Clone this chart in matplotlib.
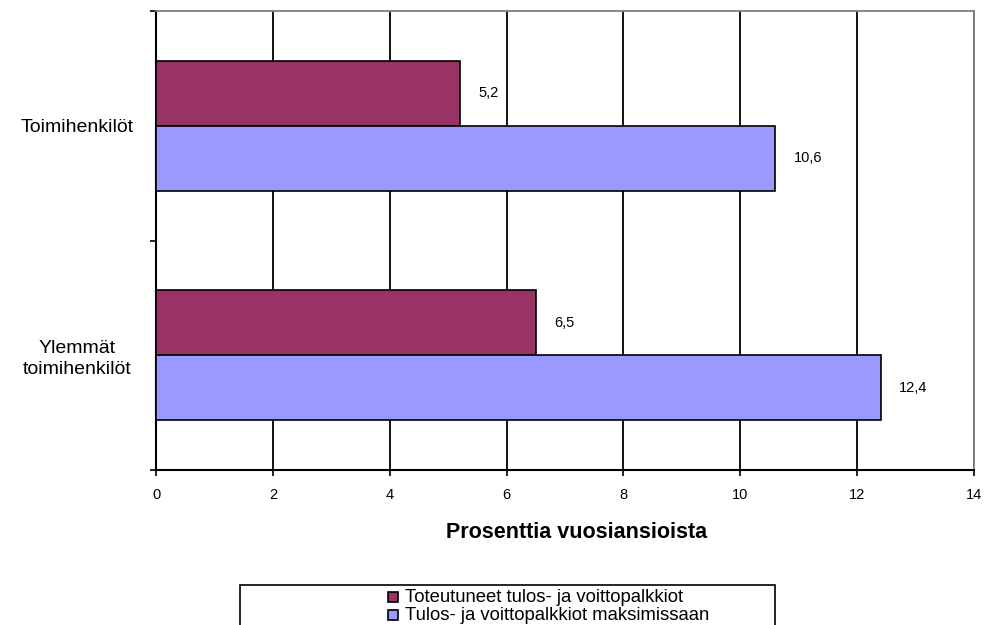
import matplotlib.pyplot as plt
import numpy as np
from matplotlib.patches import Rectangle

plt.rcParams['font.family'] = ['Liberation Sans', 'DejaVu Sans']

categories = ['Ylemmät\ntoimihenkilöt', 'Toimihenkilöt']
toteutuneet = [6.5, 5.2]
maksimissaan = [12.4, 10.6]
value_labels_tot = ['6,5', '5,2']
value_labels_max = ['12,4', '10,6']
series_names = ['Toteutuneet tulos- ja voittopalkkiot', 'Tulos- ja voittopalkkiot maksimissaan']
colors = ['#993366', '#9999FF']

fig = plt.figure(figsize=(9.97, 6.25), dpi=100)
ax = fig.add_axes([156 / 997, 1 - 470 / 625, 818 / 997, 459 / 625])

y = np.arange(len(categories))
h = 0.283
ax.barh(y + h / 2, toteutuneet, height=h, color=colors[0], edgecolor='black', linewidth=1.2, zorder=3)
ax.barh(y - h / 2, maksimissaan, height=h, color=colors[1], edgecolor='black', linewidth=1.2, zorder=3)

for yi, v, lab in zip(y, toteutuneet, value_labels_tot):
    ax.text(v + 0.32, yi + h / 2, lab, va='center', ha='left', fontsize=10.5)
for yi, v, lab in zip(y, maksimissaan, value_labels_max):
    ax.text(v + 0.32, yi - h / 2, lab, va='center', ha='left', fontsize=10.5)

ax.set_xlim(0, 14)
ax.set_ylim(-0.5, 1.5)
ax.set_xticks(np.arange(0, 15, 2))
ax.tick_params(axis='x', labelsize=10.5, length=4, width=1.2, direction='out', pad=9)
ax.set_yticks([-0.5, 0.5, 1.5])
ax.set_yticklabels([])
ax.set_yticks(y, minor=True)
ax.set_yticklabels(categories, minor=True, fontsize=14, ha='center', linespacing=1.3)
ax.tick_params(axis='y', which='minor', length=0, pad=57)
ax.tick_params(axis='y', which='major', length=4, width=1.2, direction='out')
ax.xaxis.grid(True, color='black', linewidth=1.3, zorder=0)
ax.set_axisbelow(True)
for s in ['left', 'bottom']:
    ax.spines[s].set_linewidth(1.5)
    ax.spines[s].set_color('black')
for s in ['top', 'right']:
    ax.spines[s].set_linewidth(1.3)
    ax.spines[s].set_color('#808080')
ax.set_xlabel('Prosenttia vuosiansioista', fontsize=15.5, fontweight='bold', labelpad=14)
ax.xaxis.label.set_x(0.514)

# legend box, cut off at the bottom like in the original
fig.patches.append(Rectangle((240 / 997, 1 - 680 / 625), 535 / 997, 95 / 625,
                             transform=fig.transFigure, facecolor='white',
                             edgecolor='black', linewidth=1.2))
for i, (name, c) in enumerate(zip(series_names, colors)):
    ytop = 592 + i * 18
    fig.patches.append(Rectangle((388 / 997, 1 - (ytop + 10) / 625), 10 / 997, 10 / 625,
                                 transform=fig.transFigure, facecolor=c,
                                 edgecolor='black', linewidth=1.2))
    fig.text(405 / 997, 1 - (ytop + 5) / 625, name, fontsize=13.3, va='center', ha='left')

fig.savefig('out.png', dpi=100)
